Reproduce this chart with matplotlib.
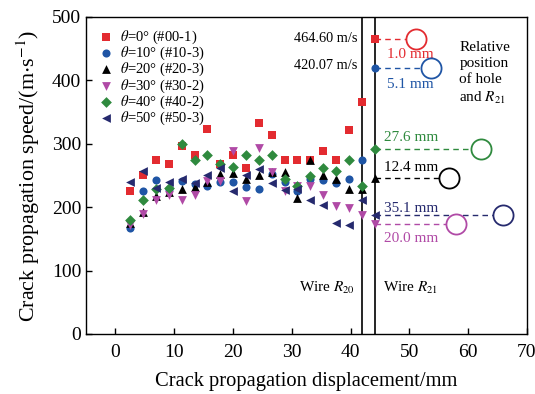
import matplotlib
matplotlib.use("Agg")
import matplotlib.pyplot as plt

plt.rcParams['font.family'] = ['Liberation Serif', 'DejaVu Serif']
plt.rcParams['mathtext.fontset'] = 'stix'

x = [2.5, 4.7, 6.9, 9.1, 11.3, 13.5, 15.6, 17.8, 20.0, 22.2,
     24.4, 26.6, 28.8, 30.9, 33.1, 35.3, 37.5, 39.7, 41.9, 44.1]

red = [225, 250, 275, 268, 297, 283, 323, 268, 283, 262,
       333, 314, 275, 275, 275, 289, 275, 322, 366, 464.6]
blue = [167, 226, 243, 228, 241, 236, 233, 240, 240, 232,
        228, 252, 240, 225, 244, 243, 238, 244, 275, 420.07]
black = [175, 193, 217, 224, 228, 232, 240, 253, 254, 244,
         251, 256, 256, 215, 275, 250, 244, 229, 229, 246]
purple = [172, 189, 211, 219, 211, 220, 241, 242, 289, 210,
          294, 255, 225, 233, 233, 219, 202, 199, 187, 173]
green = [180, 211, 228, 231, 300, 275, 283, 268, 263, 283,
         275, 283, 244, 234, 249, 262, 257, 275, 233, 291]
navy = [240, 257, 230, 240, 244, 238, 250, 262, 225, 250,
        261, 238, 227, 228, 211, 203, 175, 172, 211, 187]

labels = [r"$\theta$=0° (#00-1)", r"$\theta$=10° (#10-3)", r"$\theta$=20° (#20-3)",
          r"$\theta$=30° (#30-2)", r"$\theta$=40° (#40-2)", r"$\theta$=50° (#50-3)"]
series = [red, blue, black, purple, green, navy]
colors = ['#e32b30', '#1f55a5', '#000000', '#b04aa6', '#2f8a3e', '#262a6e']
markers = ['s', 'o', '^', 'v', 'D', '<']
msizes = [32, 34, 40, 40, 30, 40]

# hole positions (x of circle) and distance labels
hole_x = [51.2, 53.6, 56.7, 58.0, 62.1, 66.0]
hole_lbl = ["1.0 mm", "5.1 mm", "12.4 mm", "20.0 mm", "27.6 mm", "35.1 mm"]
lbl_xy = [(46.2, 441), (46.2, 394), (45.6, 263), (45.6, 151), (45.6, 310), (45.6, 198)]

wire20 = 41.9
wire21 = 44.1

fig = plt.figure(figsize=(5.35, 3.94), dpi=100)
ax = fig.add_axes([0.1607, 0.1523, 0.8243, 0.8046])

for s, c, m, ms, lab in zip(series, colors, markers, msizes, labels):
    ax.scatter(x, s, c=c, marker=m, s=ms, linewidths=0, label=lab, zorder=3)

ax.axvline(wire20, color='black', lw=1.2, zorder=2)
ax.axvline(wire21, color='black', lw=1.2, zorder=2)

for s, c, hx, hl, (lx, ly) in zip(series, colors, hole_x, hole_lbl, lbl_xy):
    yv = s[-1]
    ax.plot([x[-1], hx], [yv, yv], color=c, lw=1.0, ls=(0, (4, 3)), zorder=2)
    ax.plot([hx], [yv], marker='o', ms=14.5, mfc='white', mec=c, mew=1.3, ls='none', zorder=4)
    ax.text(lx, ly, hl, color=c, fontsize=11, ha='left', va='center')

ax.text(41.1, 466, "464.60 m/s", fontsize=10.3, ha='right', va='center')
ax.text(41.1, 423, "420.07 m/s", fontsize=10.3, ha='right', va='center')
ax.text(40.8, 73, r"Wire $R_{20}$", fontsize=11, ha='right', va='center')
ax.text(45.5, 73, r"Wire $R_{21}$", fontsize=11, ha='left', va='center')
ax.text(58.5, 462, "Relative\nposition\nof hole\nand $R_{21}$", fontsize=11,
        ha='left', va='top', linespacing=1.3)

ax.set_xlim(-5, 70)
ax.set_ylim(0, 500)
ax.set_xticks(range(0, 71, 10))
ax.set_yticks(range(0, 501, 100))
ax.tick_params(direction='in', labelsize=14, length=4, width=1)
ax.tick_params(axis='x', pad=7)
for sp in ax.spines.values():
    sp.set_linewidth(1.0)

ax.set_xlabel("Crack propagation displacement/mm", fontsize=14.8, labelpad=8)
ax.set_ylabel(r"Crack propagation speed/(m$\cdot$s$^{-1}$)", fontsize=15.8, labelpad=7)

leg = ax.legend(loc='upper left', bbox_to_anchor=(0.005, 1.0), frameon=False, fontsize=10.5,
                handlelength=0.8, handletextpad=0.55, labelspacing=-0.08,
                borderaxespad=0.4, scatterpoints=1)

fig.savefig("out.png", dpi=100)
